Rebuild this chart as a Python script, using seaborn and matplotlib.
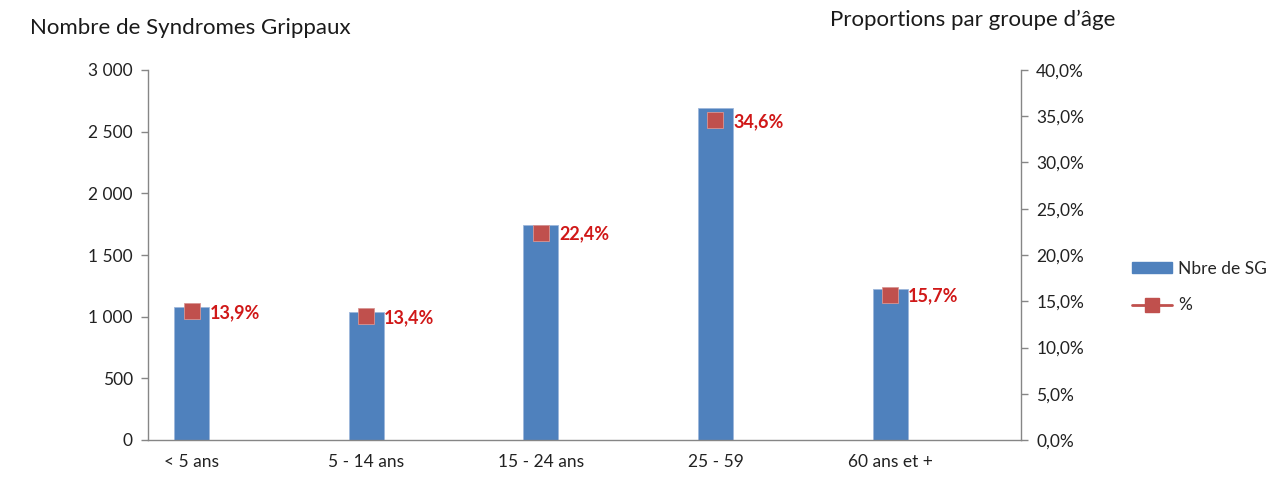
import numpy as np
import pandas as pd
import matplotlib
matplotlib.use("Agg")
import matplotlib.pyplot as plt
import seaborn as sns
from matplotlib.lines import Line2D
from matplotlib.patches import Patch
from matplotlib.ticker import FuncFormatter

# données
groupes = ["< 5 ans", "5 - 14 ans", "15 - 24 ans", "25 - 59", "60 ans et +"]
nbre_sg = [1082, 1040, 1745, 2690, 1222]
pourcentages = [13.9, 13.4, 22.4, 34.6, 15.7]

bleu = "#4F81BD"
rouge = "#C0504D"
gris = "#868686"

sns.set_theme(style="white")
plt.rcParams["font.family"] = ["Lato", "DejaVu Sans"]

# dans le classeur d'origine une colonne vide sépare chaque groupe
df = pd.DataFrame({"groupe": groupes, "nbre": nbre_sg, "pct": pourcentages})
df["pos"] = np.arange(len(groupes)) * 2
n_slots = len(groupes) * 2

fig = plt.figure(figsize=(12.71, 4.92), dpi=100)
ax = fig.add_axes([148 / 1271, 1 - 440 / 492, 873 / 1271, 370 / 492])

sns.barplot(data=df, x="pos", y="nbre", native_scale=True, color=bleu, width=0.2,
            saturation=1, edgecolor="#9DB7DB", linewidth=0.6, ax=ax)
ax.set_xlim(-0.5, n_slots - 0.5)
ax.set_ylim(0, 3000)
ax.set_yticks(np.arange(0, 3001, 500))
ax.yaxis.set_major_formatter(FuncFormatter(lambda v, p: f"{int(v):,}".replace(",", " ")))
ax.set_xlabel("")
ax.set_ylabel("")

# axe secondaire pour les pourcentages
ax2 = ax.twinx()
ax2.plot(df["pos"], df["pct"], linestyle="none", marker="s", markersize=11,
         color=rouge, markeredgecolor="#D99694", markeredgewidth=0.6)
ax2.set_ylim(0, 40)
ax2.set_yticks(np.arange(0, 40.1, 5))
ax2.yaxis.set_major_formatter(FuncFormatter(lambda v, p: f"{v:.1f}%".replace(".", ",")))

for x, v in zip(df["pos"], df["pct"]):
    ax2.annotate(f"{v:.1f}%".replace(".", ","), (x, v), xytext=(13, -1),
                 textcoords="offset points", va="center", ha="left",
                 fontsize=13, fontweight="bold", color="#D01818")

for a in (ax, ax2):
    a.spines["top"].set_visible(False)
    for s in ("left", "right", "bottom"):
        a.spines[s].set_color(gris)
        a.spines[s].set_linewidth(1)
    a.tick_params(axis="y", colors="#222222", labelsize=12.5, length=5, width=1,
                  color=gris, pad=6)

ax.spines["right"].set_visible(False)
ax2.spines["left"].set_visible(False)
ax2.spines["bottom"].set_visible(False)

ax.set_xticks(df["pos"])
ax.set_xticklabels(groupes)
ax.set_xticks(np.arange(-0.5, n_slots, 1), minor=True)
ax.tick_params(axis="x", which="major", length=0, labelsize=12.5, colors="#222222", pad=10)
ax.tick_params(axis="x", which="minor", length=5, width=1, color=gris, direction="out")
ax.tick_params(axis="y", left=True, direction="out")
ax2.tick_params(axis="y", right=True, direction="out")

fig.text(30 / 1271, 1 - 28 / 492, "Nombre de Syndromes Grippaux", fontsize=16,
         va="center", ha="left", color="#1a1a1a")
fig.text(830 / 1271, 1 - 20 / 492, "Proportions par groupe d\u2019âge", fontsize=16,
         va="center", ha="left", color="#1a1a1a")

handles = [Patch(facecolor=bleu, edgecolor=bleu),
           Line2D([0], [0], color=rouge, lw=2, marker="s", markersize=10,
                  markeredgecolor=rouge)]
fig.legend(handles, ["Nbre de SG", "%"], loc="center left",
           bbox_to_anchor=(1132 / 1271, 1 - 287 / 492), frameon=False,
           fontsize=12.5, handlelength=2.3, labelspacing=1.2, handletextpad=0.35,
           borderpad=0, borderaxespad=0, handleheight=0.6)

fig.savefig("out.png", dpi=100)
